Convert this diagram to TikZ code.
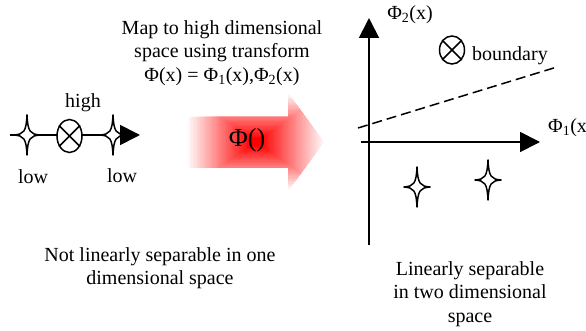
\documentclass[tikz,border=0pt]{standalone}
\usepackage{fontspec}
\setmainfont{Liberation Serif}
\usetikzlibrary{arrows.meta,shapes.geometric}
\begin{document}
\begin{tikzpicture}[x=1pt,y=-1pt,
  font=\fontsize{20}{23.5}\selectfont,
  axisline/.style={line width=1.8pt, -{Triangle[length=20pt,width=20pt]}},
  starline/.style={draw=black, line width=1.5pt, fill=white, line join=round},
  otimes/.style={ellipse, draw, line width=1.5pt, fill=white, inner sep=0pt},
  crossline/.style={line width=1.5pt},
  lbl/.style={inner sep=0pt, align=center},
  fourstar/.pic={\draw[starline] (0,-20) .. controls (0.8,-3.2) and (3.2,-0.8) .. (13,0)
      .. controls (3.2,0.8) and (0.8,3.2) .. (0,20)
      .. controls (-0.8,3.2) and (-3.2,0.8) .. (-13,0)
      .. controls (-3.2,-0.8) and (-0.8,-3.2) .. cycle;}]
\useasboundingbox (0,0) rectangle (586,331);

% ---- left: one-dimensional space
\coordinate (l0) at (10,135);
\coordinate (l1) at (140,135);
\draw[axisline] (l0) -- (l1);
\pic at (27,135) {fourstar};
\pic at (113,135) {fourstar};
\node[otimes, minimum width=25pt, minimum height=33pt] (o1) at (69.5,136) {};
\draw[crossline] (o1.45) -- (o1.225) (o1.135) -- (o1.315);
\node[lbl] (high) at (83,103) {high};
\node[lbl] (low1) at (33,177) {low};
\node[lbl] (low2) at (122,176) {low};

% ---- top text
\node[lbl] (maptext) at (222,53) {Map to high dimensional\\space using transform\\Φ(x) = Φ\textsubscript{1}(x),Φ\textsubscript{2}(x)};

% ---- transform arrow (rectangular gradient from centre)
\begin{scope}
  \clip (185,117) -- (288,117) -- (288,93) -- (324,142) -- (288,191) -- (288,168) -- (185,168) -- cycle;
  \foreach \i in {0,...,40}{
    \pgfmathsetmacro{\s}{1-\i/40}
    \pgfmathsetmacro{\p}{min(100,\i*2.7)}
    \fill[red!\p!white] ({256-70*\s},{142-49*\s}) rectangle ({256+70*\s},{142+49*\s});
  }
\end{scope}
\node[lbl, font=\fontsize{26}{30}\selectfont] (phi) at (247,140) {Φ()};

% ---- right: two-dimensional space
\coordinate (v0) at (369,245);
\coordinate (v1) at (369,18);
\coordinate (h0) at (361,142);
\coordinate (h1) at (540,142);
\draw[axisline] (v0) -- (v1);
\draw[axisline] (h0) -- (h1);
\node[lbl] (phi2) at (410,15) {Φ\textsubscript{2}(x)};
\node[lbl, anchor=west] (phi1) at (548,128) {Φ\textsubscript{1}(x};
\coordinate (b0) at (358,128);
\coordinate (b1) at (557,67);
\draw[line width=1.5pt, dash pattern=on 10pt off 5pt] (b0) -- (b1);
\node[otimes, minimum width=25pt, minimum height=28pt] (o2) at (452,50) {};
\draw[crossline] (o2.45) -- (o2.225) (o2.135) -- (o2.315);
\node[lbl] (bnd) at (510,56) {boundary};
\pic at (417,187) {fourstar};
\pic at (488,180) {fourstar};

% ---- bottom texts
\node[lbl] (lefttext) at (160,268) {Not linearly separable in one\\dimensional space};
\node[lbl] (righttext) at (470,294) {Linearly separable\\in two dimensional\\space};
\end{tikzpicture}
\end{document}
